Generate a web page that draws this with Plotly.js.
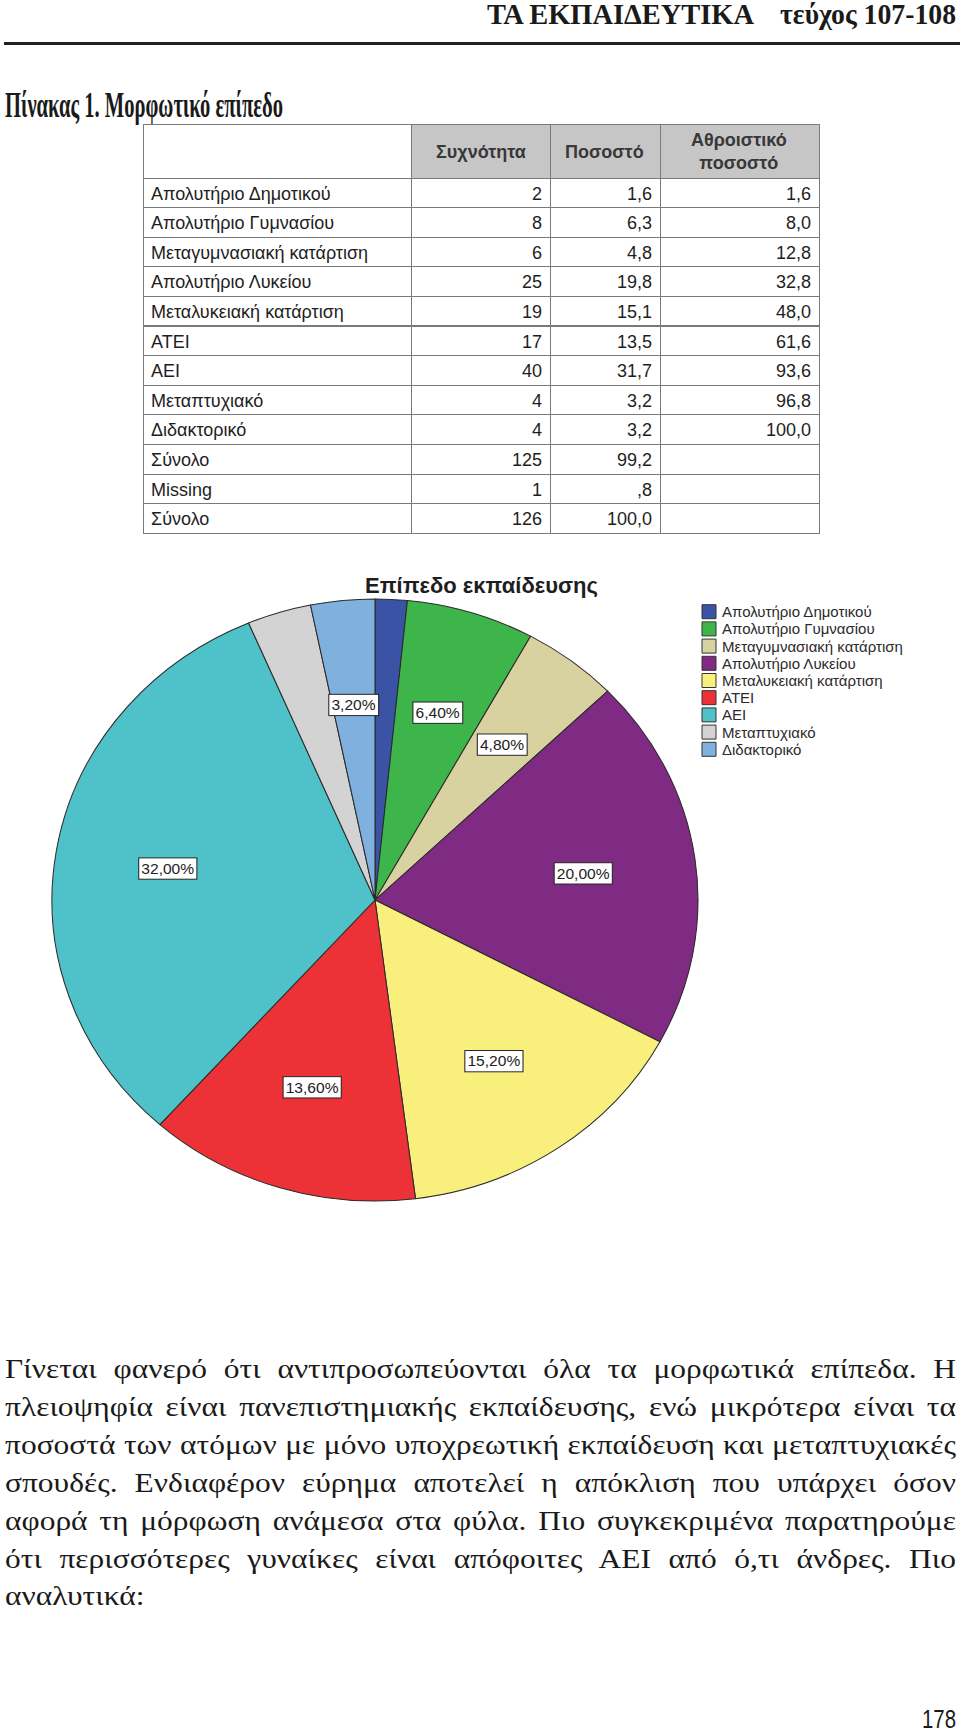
<!DOCTYPE html>
<html>
<head>
<meta charset="utf-8">
<script src="https://cdn.plot.ly/plotly-3.0.1.min.js"></script>
<style>
  body { margin: 0; width: 960px; height: 1731px; position: relative; background: #fff; overflow: hidden; }
  .abs { position: absolute; white-space: nowrap; transform-origin: 0 0; }
  .serifb { font-family: 'Liberation Serif', 'Times New Roman', serif; font-weight: bold; color: #1a1a1a; }
  #rule { position: absolute; left: 4px; top: 42px; width: 956px; height: 3px; background: #222; }
  #table { position: absolute; left: 142px; top: 123px; width: 678px; height: 414px; }
  #pie { position: absolute; left: 0; top: 560px; width: 960px; height: 680px;
         transform: scale(1.0386, 0.968); transform-origin: 375px 340px; }
  #pieKey { position: absolute; left: 0; top: 560px; width: 960px; height: 680px; }
  #para { position: absolute; left: 5px; top: 1350px; transform-origin: 0 0;
          font-family: 'Liberation Serif', 'Times New Roman', serif; font-size: 28px; line-height: 37.9px; color: #1a1a1a; }
  #para div { text-align: justify; text-align-last: justify; }
  #para div.last { text-align-last: left; }
</style>
</head>
<body>
<div id="hdr1" class="abs serifb" style="top:0px;font-size:29px;line-height:29px">ΤΑ ΕΚΠΑΙΔΕΥΤΙΚΑ</div>
<div id="hdr2" class="abs serifb" style="top:0px;font-size:29px;line-height:29px">τεύχος 107-108</div>
<div id="rule"></div>
<div id="caption" class="abs serifb" style="top:88px;font-size:35px;line-height:35px">Πίνακας 1. Μορφωτικό επίπεδο</div>
<div id="table"></div>
<div id="pie"></div>
<div id="pieKey"></div>
<div id="para"></div>
<div id="pageno" class="abs" style="top:1706px;font-family:'Liberation Sans',Arial,sans-serif;font-size:26px;line-height:26px;color:#1a1a1a">178</div>

<script>
// Table 1 data
const rowLabels = ['Απολυτήριο Δημοτικού', 'Απολυτήριο Γυμνασίου', 'Μεταγυμνασιακή κατάρτιση',
  'Απολυτήριο Λυκείου', 'Μεταλυκειακή κατάρτιση', 'ΑΤΕΙ', 'ΑΕΙ', 'Μεταπτυχιακό', 'Διδακτορικό',
  'Σύνολο', 'Missing', 'Σύνολο'];
const frequency = ['2', '8', '6', '25', '19', '17', '40', '4', '4', '125', '1', '126'];
const percent = ['1,6', '6,3', '4,8', '19,8', '15,1', '13,5', '31,7', '3,2', '3,2', '99,2', ',8', '100,0'];
const cumulative = ['1,6', '8,0', '12,8', '32,8', '48,0', '61,6', '93,6', '96,8', '100,0', '', '', ''];
const columnHeaders = ['', 'Συχνότητα', 'Ποσοστό', 'Αθροιστικό<br>ποσοστό'];

// Pie chart data
const levels = ['Απολυτήριο Δημοτικού', 'Απολυτήριο Γυμνασίου', 'Μεταγυμνασιακή κατάρτιση',
  'Απολυτήριο Λυκείου', 'Μεταλυκειακή κατάρτιση', 'ΑΤΕΙ', 'ΑΕΙ', 'Μεταπτυχιακό', 'Διδακτορικό'];
const counts = [2, 8, 6, 25, 19, 17, 40, 4, 4];
const sliceColors = ['#3b53a4', '#3db54a', '#d8d2a0', '#7f2a83', '#f8ef7c', '#ec3237', '#4fc1c8', '#d3d3d3', '#7fb0de'];
const labelShown = [false, true, true, true, true, true, true, false, true];

const paragraph = [
  'Γίνεται φανερό ότι αντιπροσωπεύονται όλα τα μορφωτικά επίπεδα. Η',
  'πλειοψηφία είναι πανεπιστημιακής εκπαίδευσης, ενώ μικρότερα είναι τα',
  'ποσοστά των ατόμων με μόνο υποχρεωτική εκπαίδευση και μεταπτυχιακές',
  'σπουδές. Ενδιαφέρον εύρημα αποτελεί η απόκλιση που υπάρχει όσον',
  'αφορά τη μόρφωση ανάμεσα στα φύλα. Πιο συγκεκριμένα παρατηρούμε',
  'ότι περισσότερες γυναίκες είναι απόφοιτες ΑΕΙ από ό,τι άνδρες. Πιο',
  'αναλυτικά:'
];

const sansFont = 'Liberation Sans, Arial, sans-serif';

// squeeze a text block horizontally into a given box
function fit(id, left, width) {
  const el = document.getElementById(id);
  el.style.left = left + 'px';
  const w = el.getBoundingClientRect().width;
  el.style.transform = 'scaleX(' + (width / w) + ')';
}

fit('hdr1', 487, 267);
fit('hdr2', 780, 176);
fit('caption', 5, 278);
fit('pageno', 922, 34);

// ---- table ----
const colWidths = [268, 139, 110, 159];
const tableW = 676, tableH = 414, headerH = 54, rowH = 29.6;
const colSum = colWidths.reduce((a, b) => a + b, 0);

const headerNotes = [];
let xAcc = 0;
colWidths.forEach((w, i) => {
  if (columnHeaders[i]) {
    headerNotes.push({
      xref: 'paper', yref: 'paper',
      x: (1 + (xAcc + w / 2) / colSum * tableW) / (tableW + 2),
      y: 1 - (1 + headerH / 2) / tableH,
      text: columnHeaders[i], showarrow: false,
      xanchor: 'center', yanchor: 'middle',
      font: { family: sansFont, size: 18, color: '#383838', weight: 'bold' }
    });
  }
  xAcc += w;
});

Plotly.newPlot('table', [{
  type: 'table',
  columnwidth: colWidths,
  header: {
    values: columnHeaders.map(() => ''),
    height: headerH,
    fill: { color: ['#ffffff', '#c6c6c6', '#c6c6c6', '#c6c6c6'] },
    line: { color: '#7a7a7a', width: 1 }
  },
  cells: {
    values: [rowLabels, frequency, percent, cumulative],
    height: rowH,
    align: ['left', 'right', 'right', 'right'],
    fill: { color: '#ffffff' },
    line: { color: '#7a7a7a', width: 1 },
    font: { family: sansFont, size: 18, color: '#1e1e1e' }
  }
}], {
  width: tableW + 2, height: tableH,
  margin: { l: 1, r: 1, t: 1, b: 1 },
  paper_bgcolor: 'rgba(0,0,0,0)',
  annotations: headerNotes
}, { staticPlot: true, displayModeBar: false });

// ---- pie (the printed pie is a little squashed, the div is scaled in css) ----
const pieW = 960, pieH = 680;
const cx = 375, cy = 340, radius = 311;
const px = x => x / pieW;
const py = y => 1 - y / pieH;

const total = counts.reduce((a, b) => a + b, 0);
const sliceNotes = [];
let cum = 0;
counts.forEach((v, i) => {
  const theta = 2 * Math.PI * (cum + v / 2) / total;
  cum += v;
  if (!labelShown[i]) return;
  sliceNotes.push({
    xref: 'paper', yref: 'paper',
    x: px(cx + 0.65 * radius * Math.sin(theta)),
    y: py(cy - 0.65 * radius * Math.cos(theta)),
    text: (v / total * 100).toFixed(2).replace('.', ',') + '%',
    showarrow: false, xanchor: 'center', yanchor: 'middle',
    bgcolor: '#ffffff', bordercolor: '#222', borderwidth: 1, borderpad: 2,
    font: { family: sansFont, size: 15, color: '#222' }
  });
});

Plotly.newPlot('pie', [{
  type: 'pie',
  labels: levels,
  values: counts,
  sort: false,
  direction: 'clockwise',
  rotation: 0,
  textinfo: 'none',
  hoverinfo: 'none',
  showlegend: false,
  marker: { colors: sliceColors, line: { color: '#2b2b2b', width: 1 } },
  domain: { x: [px(cx - radius), px(cx + radius)], y: [py(cy + radius), py(cy - radius)] }
}], {
  width: pieW, height: pieH,
  margin: { l: 0, r: 0, t: 0, b: 0 },
  paper_bgcolor: 'rgba(0,0,0,0)',
  showlegend: false,
  annotations: sliceNotes
}, { staticPlot: true, displayModeBar: false });

// title and hand-made legend, tighter than plotly's own
const keyNotes = [{
  xref: 'paper', yref: 'paper', x: px(481), y: py(26),
  text: 'Επίπεδο εκπαίδευσης', showarrow: false,
  xanchor: 'center', yanchor: 'middle',
  font: { family: sansFont, size: 22, color: '#1e1e1e', weight: 'bold' }
}];
const keyShapes = [];
levels.forEach((name, i) => {
  const yc = 51.7 + i * 17.2;
  keyShapes.push({
    type: 'rect', xref: 'paper', yref: 'paper',
    x0: px(702), x1: px(716), y0: py(yc - 7), y1: py(yc + 7),
    fillcolor: sliceColors[i], line: { color: '#333', width: 1 }
  });
  keyNotes.push({
    xref: 'paper', yref: 'paper', x: px(720), y: py(yc),
    text: name, showarrow: false, xanchor: 'left', yanchor: 'middle',
    font: { family: sansFont, size: 15, color: '#2b2b2b' }
  });
});

Plotly.newPlot('pieKey', [], {
  width: pieW, height: pieH,
  margin: { l: 0, r: 0, t: 0, b: 0 },
  paper_bgcolor: 'rgba(0,0,0,0)',
  plot_bgcolor: 'rgba(0,0,0,0)',
  xaxis: { visible: false }, yaxis: { visible: false },
  annotations: keyNotes,
  shapes: keyShapes
}, { staticPlot: true, displayModeBar: false });

// ---- paragraph: justified lines, widened to the page's type ----
const para = document.getElementById('para');
const probe = document.createElement('span');
probe.style.whiteSpace = 'nowrap';
para.appendChild(probe);
let maxW = 0;
paragraph.forEach(t => { probe.textContent = t; maxW = Math.max(maxW, probe.getBoundingClientRect().width); });
probe.textContent = paragraph[paragraph.length - 1];
let s = 142 / probe.getBoundingClientRect().width;
s = Math.min(s, 951 * 0.995 / maxW);
para.removeChild(probe);
para.style.width = (951 / s) + 'px';
para.style.transform = 'scaleX(' + s + ')';
paragraph.forEach((t, i) => {
  const d = document.createElement('div');
  d.textContent = t;
  if (i === paragraph.length - 1) d.className = 'last';
  para.appendChild(d);
});
</script>
</body>
</html>
